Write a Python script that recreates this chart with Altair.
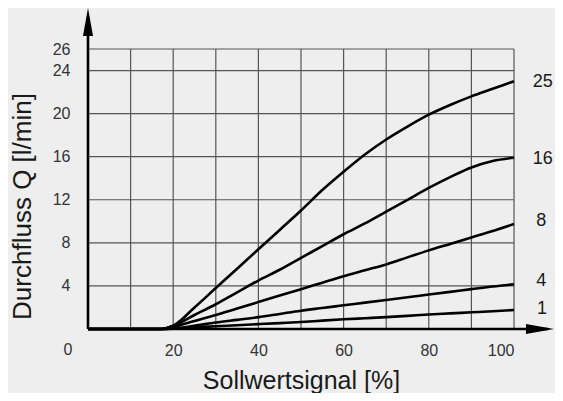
import altair as alt
import pandas as pd

# ---- data ----
x_pct = [0, 17, 20, 25, 30, 35, 40, 45, 50, 55, 60, 65, 70, 75, 80, 85, 90, 95, 100]
q25 = [0, 0, 0.3, 2.0, 3.8, 5.6, 7.4, 9.2, 11.0, 12.9, 14.6, 16.2, 17.6, 18.8, 19.9, 20.8, 21.6, 22.3, 23.0]
q16 = [0, 0, 0.3, 1.3, 2.3, 3.4, 4.5, 5.5, 6.6, 7.7, 8.8, 9.8, 10.9, 12.0, 13.1, 14.1, 15.0, 15.6, 15.9]
q8 = [0, 0, 0.2, 0.75, 1.3, 1.9, 2.5, 3.1, 3.7, 4.3, 4.9, 5.45, 6.0, 6.65, 7.3, 7.9, 8.5, 9.1, 9.75]
q4 = [0, 0, 0.05, 0.3, 0.6, 0.85, 1.1, 1.4, 1.7, 1.95, 2.2, 2.45, 2.7, 2.95, 3.2, 3.45, 3.7, 3.95, 4.15]
q1 = [0, 0, 0.02, 0.15, 0.25, 0.35, 0.45, 0.55, 0.65, 0.78, 0.9, 1.0, 1.1, 1.22, 1.35, 1.45, 1.55, 1.65, 1.76]
series_names = ["25", "16", "8", "4", "1"]
series_values = [q25, q16, q8, q4, q1]
label_y = [22.9, 15.75, 10.05, 4.45, 1.9]
label_x = [104.4, 104.4, 105.2, 105.2, 105.4]

x_grid = [10, 20, 30, 40, 50, 60, 70, 80, 90, 100]
y_grid = [4, 8, 12, 16, 20, 24, 26]
x_ticks = [20, 40, 60, 80, 100]
y_ticks = [4, 8, 12, 16, 20, 24, 26]

FONT = "Liberation Sans, Arial, Helvetica, sans-serif"

rows = []
for name, vals in zip(series_names, series_values):
    for xv, yv in zip(x_pct, vals):
        rows.append({"s": name, "x": xv, "y": yv})
curves_df = pd.DataFrame(rows)

xs = alt.Scale(domain=[0, 100], nice=False, zero=False)
ys = alt.Scale(domain=[0, 26], nice=False, zero=False)

xaxis = alt.Axis(values=x_ticks, grid=False, domain=False, ticks=False,
                 labelFontSize=16, labelColor="#333333", labelFont=FONT, labelPadding=13,
                 title="Sollwertsignal [%]", titleFontSize=25, titleFont=FONT,
                 titleFontWeight="normal", titleColor="#1a1a1a", titlePadding=10)
yaxis = alt.Axis(values=y_ticks, grid=False, domain=False, ticks=False,
                 labelFontSize=16, labelColor="#333333", labelFont=FONT, labelPadding=18,
                 title="Durchfluss Q [l/min]", titleFontSize=26, titleFont=FONT,
                 titleFontWeight="normal", titleColor="#1a1a1a", titlePadding=17,
                 titleY=157)

vgrid = alt.Chart(pd.DataFrame({"x": x_grid, "y0": [0] * len(x_grid), "y1": [26] * len(x_grid)})).mark_rule(
    color="#555555", strokeWidth=1.2, clip=False
).encode(x=alt.X("x:Q", scale=xs, axis=xaxis), y=alt.Y("y0:Q", scale=ys, axis=yaxis), y2="y1:Q")

hgrid = alt.Chart(pd.DataFrame({"y": y_grid, "x0": [0] * len(y_grid), "x1": [100] * len(y_grid)})).mark_rule(
    color="#555555", strokeWidth=1.2, clip=False
).encode(y=alt.Y("y:Q", scale=ys), x=alt.X("x0:Q", scale=xs), x2="x1:Q")

x_axis_line = alt.Chart(pd.DataFrame({"x0": [0], "x1": [108], "y": [0]})).mark_rule(
    color="black", strokeWidth=2.6, clip=False
).encode(x=alt.X("x0:Q", scale=xs), x2="x1:Q", y=alt.Y("y:Q", scale=ys))

y_axis_line = alt.Chart(pd.DataFrame({"x": [0], "y0": [0], "y1": [29]})).mark_rule(
    color="black", strokeWidth=2.6, clip=False
).encode(x=alt.X("x:Q", scale=xs), y=alt.Y("y0:Q", scale=ys), y2="y1:Q")

arrow_up = alt.Chart(pd.DataFrame({"x": [0], "y": [28.5]})).mark_point(
    shape="M0,-1L0.36,1L-0.36,1Z", size=784, filled=True, color="black", opacity=1, clip=False
).encode(x=alt.X("x:Q", scale=xs), y=alt.Y("y:Q", scale=ys))

arrow_right = alt.Chart(pd.DataFrame({"x": [106.1], "y": [0]})).mark_point(
    shape="M1,0L-1,0.36L-1,-0.36Z", size=784, filled=True, color="black", opacity=1, clip=False
).encode(x=alt.X("x:Q", scale=xs), y=alt.Y("y:Q", scale=ys))

curves = alt.Chart(curves_df).mark_line(
    color="black", strokeWidth=2.6, interpolate="monotone", clip=False
).encode(x=alt.X("x:Q", scale=xs), y=alt.Y("y:Q", scale=ys), detail="s:N")

labels = alt.Chart(pd.DataFrame({"s": series_names, "x": label_x, "y": label_y})).mark_text(
    align="left", baseline="middle", fontSize=18, font=FONT, color="#1a1a1a", clip=False
).encode(x=alt.X("x:Q", scale=xs), y=alt.Y("y:Q", scale=ys), text="s:N")

zero_label = alt.Chart(pd.DataFrame({"t": ["0"], "x": [-4.7], "y": [-1.95]})).mark_text(
    align="center", baseline="middle", fontSize=16, font=FONT, color="#333333", clip=False
).encode(x=alt.X("x:Q", scale=xs), y=alt.Y("y:Q", scale=ys), text="t:N")

chart = alt.layer(
    vgrid, hgrid, curves, x_axis_line, y_axis_line, arrow_up, arrow_right, labels, zero_label
).properties(
    width=426, height=280,
    autosize=alt.AutoSizeParams(type="none"),
    padding={"left": 80, "top": 41, "right": 41, "bottom": 64},
    background="#eeeeee",
).configure_view(strokeWidth=0)

chart.save("out.html", embed_options={"renderer": "svg", "actions": False})
